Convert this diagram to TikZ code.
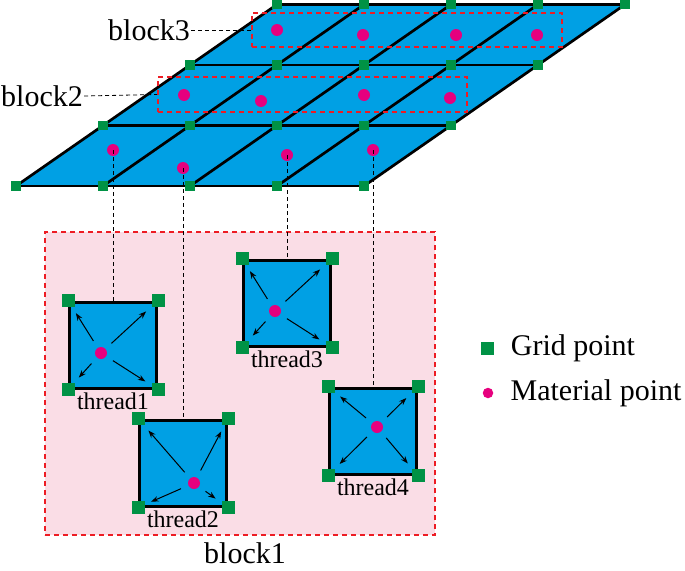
\documentclass[tikz,border=0pt]{standalone}
\usepackage{fontspec}
\setmainfont{Liberation Serif}
\newfontfamily\figfont{Liberation Serif}
\usetikzlibrary{positioning,arrows.meta}

\definecolor{cellblue}{RGB}{0,160,228}
\definecolor{gridgreen}{RGB}{0,146,69}
\definecolor{matpink}{RGB}{230,0,126}
\definecolor{blockbg}{RGB}{250,221,230}
\definecolor{blockred}{RGB}{237,28,36}

\begin{document}
\begin{tikzpicture}[x=1pt, y=-1pt,
		gridpt/.style={rectangle, fill=gridgreen, inner sep=0pt, minimum size=9.5pt},
		cornerpt/.style={rectangle, fill=gridgreen, inner sep=0pt, minimum size=13pt},
		matpt/.style={circle, fill=matpink, inner sep=0pt, minimum size=12pt},
		blockbox/.style={rectangle, draw=blockred, line width=1.8pt, dash pattern=on 5pt off 4pt, inner sep=0pt},
		threadbox/.style={rectangle, draw, fill=cellblue, line width=3pt, inner sep=0pt, minimum width=87pt, minimum height=86pt},
		bigtext/.style={font=\figfont\fontsize{30}{36}\selectfont, inner sep=1pt},
		threadlbl/.style={font=\figfont\fontsize{24}{28}\selectfont, inner sep=1pt},
		leader/.style={line width=0.8pt, dash pattern=on 4pt off 3pt},
		arr/.style={-{Stealth[length=7.5pt, width=5.5pt]}, line width=1pt, shorten <=8pt, shorten >=7pt}]
			\useasboundingbox (0,0) rectangle (685,570);
			
			% Skewed grid of cells
			\foreach \i in {0,...,4}
				\foreach \j in {0,...,3}
					\coordinate (p\i\j) at ({16+87*(\i+\j)},{186-60.5*\j});
			\fill[cellblue] (p00) -- (p40) -- (p43) -- (p03) -- cycle;
			\foreach \j in {0,...,3}
				\draw[line width=2.7pt] (p0\j) -- (p4\j);
			\foreach \i in {0,...,4}
				\draw[line width=2.7pt] (p\i0) -- (p\i3);
			\foreach \i in {0,...,4}
				\foreach \j in {0,...,3}
					\node[gridpt] (g\i\j) at (p\i\j) {};
			
			% Material points in the cells
			\node[matpt] (b1m1) at (113,150) {};
			\node[matpt] (b1m2) at (183,168) {};
			\node[matpt] (b1m3) at (287,155) {};
			\node[matpt] (b1m4) at (373,150) {};
			\node[matpt] (b2m1) at (184,95) {};
			\node[matpt] (b2m2) at (261,101) {};
			\node[matpt] (b2m3) at (364,95) {};
			\node[matpt] (b2m4) at (450,98) {};
			\node[matpt] (b3m1) at (277,30) {};
			\node[matpt] (b3m2) at (363,35) {};
			\node[matpt] (b3m3) at (456,35) {};
			\node[matpt] (b3m4) at (537,35) {};
			
			% Blocks 2 and 3 with their labels
			\node[blockbox, minimum width=310pt, minimum height=34pt] (block3box) at (407,30) {};
			\node[blockbox, minimum width=309pt, minimum height=35pt] (block2box) at (312.5,94.5) {};
			\node[bigtext] (block3lbl) at (149,30) {block3};
			\node[bigtext] (block2lbl) at (42,96) {block2};
			\draw[leader] (block3lbl.east) -- (block3box.west);
			\draw[leader] (block2lbl.east) -- (block2box.west);
			
			% Block 1 with its threads
			\node[blockbox, fill=blockbg, minimum width=390pt, minimum height=303pt] (block1box) at (240,383.5) {};
			\node[bigtext] (block1lbl) at (245,553) {block1};
			
			\node[threadbox] (t1) at (113,345) {};
			\node[threadbox] (t2) at (183,463) {};
			\node[threadbox] (t3) at (287,303) {};
			\node[threadbox] (t4) at (373,431) {};
			
			\node[matpt] (d1) at (101,353) {};
			\node[matpt] (d2) at (194,483) {};
			\node[matpt] (d3) at (275,311) {};
			\node[matpt] (d4) at (377,427) {};
			
			\foreach \t in {1,...,4} {
				\foreach \c/\n in {north west/nw, north east/ne, south west/sw, south east/se} {
					\node[cornerpt] (t\t\n) at (t\t.\c) {};
					\draw[arr] (d\t) -- (t\t\n);
				}
				\node[threadlbl, below=2pt of t\t] (t\t lbl) {thread\t};
			}
			
			% Links from the material points to the threads
			\draw[leader] (b1m1.center) -- (t1.north);
			\draw[leader] (b1m2.center) -- (t2.north);
			\draw[leader] (b1m3.center) -- (t3.north);
			\draw[leader] (b1m4.center) -- (t4.north);
			
			% Legend
			\node[cornerpt] (leggrid) at (487,348) {};
			\node[bigtext, right=16pt of leggrid] (leggridlbl) {Grid point};
			\node[matpt, minimum size=10.5pt] (legmat) at (488,393) {};
			\node[bigtext, right=16pt of legmat] (legmatlbl) {Material point};
		\end{tikzpicture}
\end{document}
